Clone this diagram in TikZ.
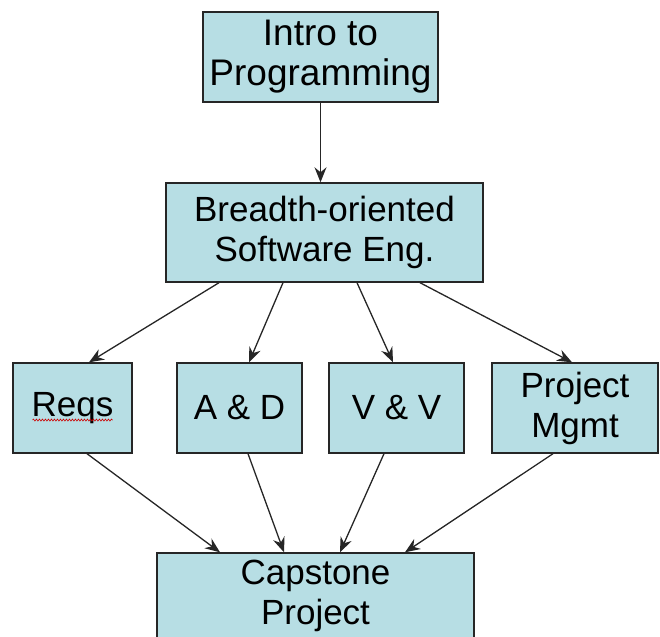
\documentclass[tikz,border=0pt]{standalone}
\usepackage{fontspec}
\setmainfont{Liberation Sans}
\usepackage{tikz}
\usetikzlibrary{arrows.meta}
\usetikzlibrary{decorations.pathmorphing}
\definecolor{boxfill}{RGB}{183,222,228}

\begin{document}
\begin{tikzpicture}[x=1pt,y=-1pt,
    course/.style={draw=black!85,fill=boxfill,line width=1.4pt,inner sep=0,align=center,font=\fontsize{35}{40}\selectfont},
    link/.style={-{Stealth[length=15pt,width=12pt,inset=5pt]},line width=1.3pt,draw=black!85}]
    \useasboundingbox (0,0) rectangle (660,636);
    \clip (0,0) rectangle (660,636);

    \node[course,minimum width=235pt,minimum height=90pt,font=\fontsize{37}{40}\selectfont] (intro) at (320.5,57) {Intro to\\Programming};
    \node[course,minimum width=317pt,minimum height=99pt] (breadth) at (324.5,232.5) {Breadth-oriented\\Software Eng.};
    \node[course,minimum width=119pt,minimum height=90pt] (reqs) at (72.5,408) {Reqs};
    \node[course,minimum width=125pt,minimum height=90pt] (ad) at (239.5,408) {A \& D};
    \node[course,minimum width=135pt,minimum height=90pt] (vv) at (396.5,408) {V \& V};
    \node[course,minimum width=166pt,minimum height=90pt] (pm) at (575,408) {Project\\Mgmt};
    \node[course,minimum width=317pt,minimum height=86pt] (capstone) at (315.5,596) {Capstone\\Project};

    \draw[red!80!black,line width=0.6pt,decorate,decoration={snake,amplitude=1pt,segment length=3pt}]
        ([xshift=-40pt,yshift=-12pt]reqs.center) -- ([xshift=40pt,yshift=-12pt]reqs.center);

    \draw[link] (intro.south) -- (intro.south |- breadth.north);

    \draw[link] ([xshift=-105.5pt]breadth.south) -- ([xshift=16.5pt]reqs.north);
    \draw[link] ([xshift=-41.5pt]breadth.south) -- ([xshift=9.5pt]ad.north);
    \draw[link] ([xshift=32.5pt]breadth.south) -- ([xshift=-3.5pt]vv.north);
    \draw[link] ([xshift=95.5pt]breadth.south) -- ([xshift=-3pt]pm.north);

    \draw[link] ([xshift=14.5pt]reqs.south) -- ([xshift=-95.5pt]capstone.north);
    \draw[link] ([xshift=8.5pt]ad.south) -- ([xshift=-31.5pt]capstone.north);
    \draw[link] ([xshift=-12.5pt]vv.south) -- ([xshift=24.5pt]capstone.north);
    \draw[link] ([xshift=-22pt]pm.south) -- ([xshift=89.5pt]capstone.north);
\end{tikzpicture}
\end{document}
